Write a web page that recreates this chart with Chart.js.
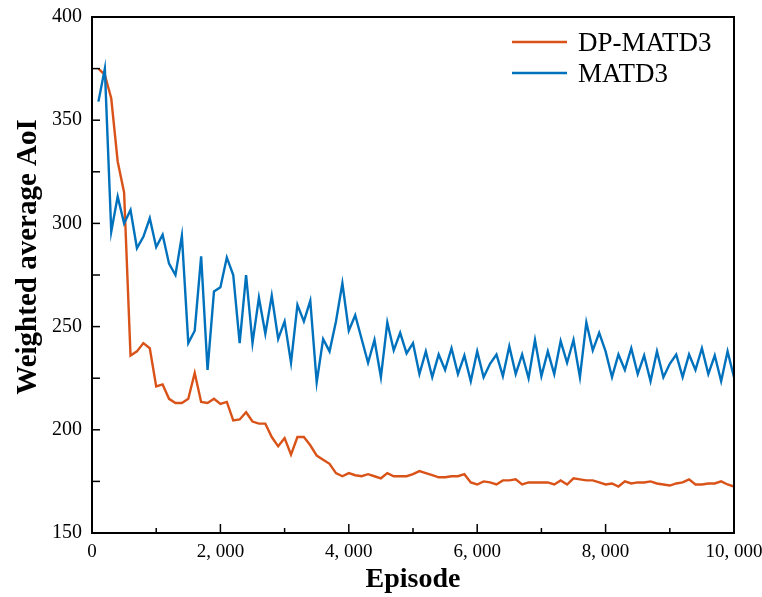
<!DOCTYPE html>
<html>
<head>
<meta charset="utf-8">
<script src="https://cdn.jsdelivr.net/npm/chart.js@4.4.0/dist/chart.umd.min.js"></script>
<style>
    html, body { margin: 0; padding: 0; background: #fff; }
    #wrap { width: 762px; height: 597px; }
</style>
</head>
<body>
<div id="wrap"><canvas id="aoiChart" width="762" height="597"></canvas></div>
<script>
// Episodes (x values), one point every 100 episodes
const episodes = [
    100, 200, 300, 400, 500, 600, 700, 800, 900, 1000,
    1100, 1200, 1300, 1400, 1500, 1600, 1700, 1800, 1900, 2000,
    2100, 2200, 2300, 2400, 2500, 2600, 2700, 2800, 2900, 3000,
    3100, 3200, 3300, 3400, 3500, 3600, 3700, 3800, 3900, 4000,
    4100, 4200, 4300, 4400, 4500, 4600, 4700, 4800, 4900, 5000,
    5100, 5200, 5300, 5400, 5500, 5600, 5700, 5800, 5900, 6000,
    6100, 6200, 6300, 6400, 6500, 6600, 6700, 6800, 6900, 7000,
    7100, 7200, 7300, 7400, 7500, 7600, 7700, 7800, 7900, 8000,
    8100, 8200, 8300, 8400, 8500, 8600, 8700, 8800, 8900, 9000,
    9100, 9200, 9300, 9400, 9500, 9600, 9700, 9800, 9900, 10000
];

// DP-MATD3 weighted average AoI
const dpMatd3 = [
    375, 372, 360.5, 330, 315, 236, 238, 242, 239.5, 221,
    222, 215, 213, 213, 215, 227.5, 213.5, 213, 215, 212.5,
    213.5, 204.5, 205, 208.5, 204, 203, 203, 196.5, 192, 196,
    188, 196.5, 196.5, 192.5, 187.5, 185.5, 183.5, 179, 177.5, 179,
    178, 177.5, 178.5, 177.5, 176.5, 179, 177.5, 177.5, 177.5, 178.5,
    180, 179, 178, 177, 177, 177.5, 177.5, 178.5, 174.5, 173.5,
    175, 174.5, 173.5, 175.5, 175.5, 176, 173.5, 174.5, 174.5, 174.5,
    174.5, 173.5, 175.5, 173.5, 176.5, 176, 175.5, 175.5, 174.5, 173.5,
    174, 172.5, 175, 174, 174.5, 174.5, 175, 174, 173.5, 173,
    174, 174.5, 176, 173.5, 173.5, 174, 174, 175, 173.5, 172.5
];

// MATD3 weighted average AoI
const matd3 = [
    359, 375, 296, 313, 300, 306.5, 288, 293.5, 302.5, 288.5,
    294.5, 280.5, 275, 294, 242, 248, 284, 229, 267, 269,
    283.5, 275, 242, 275, 242, 264, 246.5, 265, 244, 252.5,
    232.5, 260.5, 252.5, 262.5, 223, 244, 238, 252.5, 271, 248,
    255.5, 244, 232.5, 243.5, 225.5, 252, 238.5, 247, 237, 242,
    227, 238, 225.5, 236.5, 229, 239.5, 227, 236, 223.5, 238,
    225.5, 232, 236.5, 226, 240.5, 227, 236.5, 225, 243.5, 226,
    238, 227, 243, 232.5, 243.5, 225.5, 252, 238.5, 247, 238,
    225.5, 236.5, 229, 239.5, 227, 236, 223.5, 238, 225.5, 232,
    236.5, 225.5, 236.5, 229, 239.5, 227, 236, 223.5, 238, 225.5
];

// Axis tick labels
const xTickLabels = ['0', '2, 000', '4, 000', '6, 000', '8, 000', '10, 000'];
const yTickLabels = ['150', '200', '250', '300', '350', '400'];
const yTitle = 'Weighted average AoI';

const serif = '"Liberation Serif", "Times New Roman", serif';

function toPoints(values) {
    return values.map((v, i) => ({ x: episodes[i], y: v }));
}

// Frame, inward ticks, y title and legend drawn on top of the chart
const framePlugin = {
    id: 'frame',
    afterDraw(chart) {
        const { ctx, chartArea: a, scales } = chart;
        ctx.save();
        ctx.strokeStyle = '#000';
        ctx.lineWidth = 1.5;

        // inward ticks
        scales.x.ticks.forEach(t => {
            const px = scales.x.getPixelForValue(t.value);
            const len = t.value % 2000 === 0 ? 9 : 5;
            ctx.beginPath();
            ctx.moveTo(px, a.bottom);
            ctx.lineTo(px, a.bottom - len);
            ctx.stroke();
        });
        scales.y.ticks.forEach(t => {
            const py = scales.y.getPixelForValue(t.value);
            ctx.beginPath();
            ctx.moveTo(a.left, py);
            ctx.lineTo(a.left + 8, py);
            ctx.stroke();
        });

        // box
        ctx.lineWidth = 2;
        ctx.strokeRect(a.left, a.top, a.right - a.left, a.bottom - a.top);

        // y axis title (sits a bit above the axis centre in the original)
        ctx.fillStyle = '#000';
        ctx.font = 'bold 29px ' + serif;
        ctx.textAlign = 'center';
        ctx.textBaseline = 'middle';
        ctx.translate(29, 257);
        ctx.rotate(-Math.PI / 2);
        ctx.fillText(yTitle, 0, 0);
        ctx.setTransform(1, 0, 0, 1, 0, 0);

        // legend
        ctx.font = '27px ' + serif;
        ctx.textAlign = 'left';
        chart.data.datasets.forEach((ds, i) => {
            const y = 42 + i * 31;
            ctx.strokeStyle = ds.borderColor;
            ctx.lineWidth = 2.5;
            ctx.beginPath();
            ctx.moveTo(512, y);
            ctx.lineTo(567, y);
            ctx.stroke();
            ctx.fillText(ds.label, 578, y + 2);
        });
        ctx.restore();
    }
};

new Chart(document.getElementById('aoiChart'), {
    type: 'line',
    data: {
        datasets: [
            {
                label: 'DP-MATD3',
                data: toPoints(dpMatd3),
                borderColor: '#D95319',
                borderWidth: 2.4,
                pointRadius: 0,
                tension: 0,
                order: 1
            },
            {
                label: 'MATD3',
                data: toPoints(matd3),
                borderColor: '#0072BD',
                borderWidth: 2.4,
                pointRadius: 0,
                tension: 0,
                order: 0
            }
        ]
    },
    options: {
        responsive: false,
        animation: false,
        layout: { padding: { top: 17, right: 28, left: 0, bottom: 0 } },
        plugins: {
            legend: { display: false },
            tooltip: { enabled: false }
        },
        scales: {
            x: {
                type: 'linear',
                min: 0,
                max: 10000,
                grid: { display: false, drawTicks: false },
                border: { display: false },
                ticks: {
                    stepSize: 1000,
                    autoSkip: false,
                    maxRotation: 0,
                    padding: 8,
                    color: '#000',
                    font: { family: serif, size: 19 },
                    callback: v => (v % 2000 === 0 ? xTickLabels[v / 2000] : '')
                },
                title: {
                    display: true,
                    text: 'Episode',
                    color: '#000',
                    font: { family: serif, size: 28, weight: 'bold' },
                    padding: { top: 0, bottom: 0 }
                },
                afterFit(scale) {
                    scale.height = 64;
                    scale.paddingLeft = 0;
                    scale.paddingRight = 0;
                }
            },
            y: {
                min: 150,
                max: 400,
                grid: { display: false, drawTicks: false },
                border: { display: false },
                ticks: {
                    stepSize: 25,
                    autoSkip: false,
                    padding: 10,
                    color: '#000',
                    font: { family: serif, size: 20 },
                    callback: v => (v % 50 === 0 ? yTickLabels[(v - 150) / 50] : '')
                },
                afterFit(scale) {
                    scale.width = 92;
                    scale.paddingTop = 0;
                    scale.paddingBottom = 0;
                }
            }
        }
    },
    plugins: [framePlugin]
});
</script>
</body>
</html>
